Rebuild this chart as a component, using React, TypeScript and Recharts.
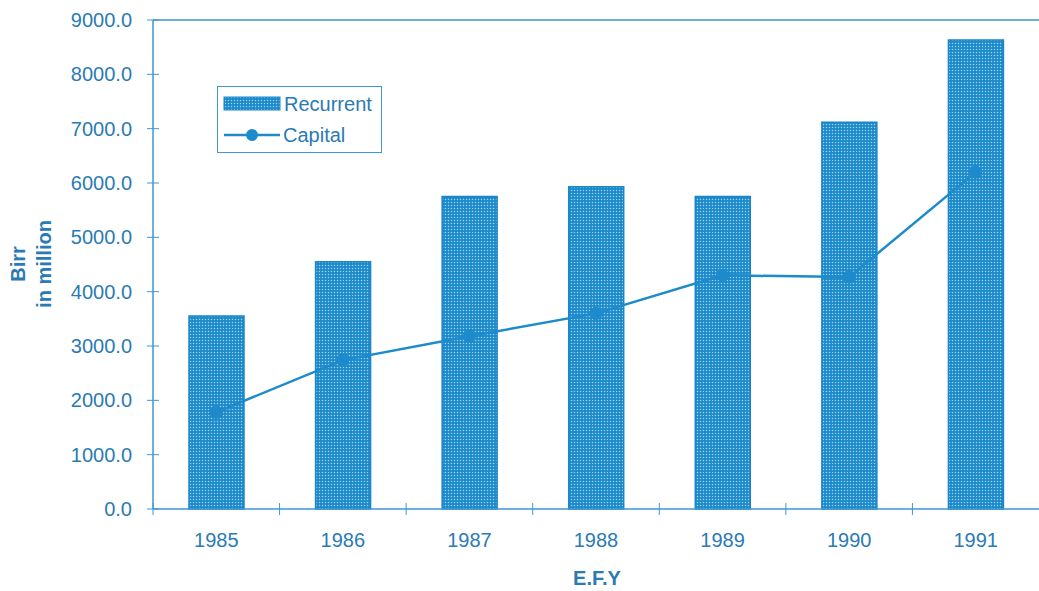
import React from 'react';
import { ComposedChart, Bar, Line, XAxis, YAxis, ReferenceLine, Label } from 'recharts';

const years = ['1985', '1986', '1987', '1988', '1989', '1990', '1991'];
const recurrent = [3550, 4550, 5750, 5930, 5750, 7120, 8630];
const capital = [1780, 2740, 3180, 3600, 4300, 4270, 6200];
const yTicks = [0, 1000, 2000, 3000, 4000, 5000, 6000, 7000, 8000, 9000];

const data = years.map((year, i) => ({ year, recurrent: recurrent[i], capital: capital[i] }));

const W = 1039;
const H = 591;
const PLOT_LEFT = 153;
const PLOT_TOP = 20;
const PLOT_BOTTOM = 509;
const BAND = (W - PLOT_LEFT) / years.length;

const TEXT = '#2a7bb4';
const AXIS = '#3d98d3';
const BAR_EDGE = '#1b86c7';
const LINE = '#1d8bcb';
const FONT = '"Liberation Sans", Arial, sans-serif';
const FS = 20;

const YTick = ({ y, payload }: any) => (
  <g>
    <line x1={PLOT_LEFT - 6} x2={PLOT_LEFT + 6} y1={y} y2={y} stroke={AXIS} strokeWidth={1} />
    <text x={132} y={y} textAnchor="end" dominantBaseline="central" fill={TEXT} fontSize={FS} fontFamily={FONT}>
      {Number(payload.value).toFixed(1)}
    </text>
  </g>
);

const XTick = ({ x, payload }: any) => (
  <g>
    <line x1={x - BAND / 2} x2={x - BAND / 2} y1={PLOT_BOTTOM - 6} y2={PLOT_BOTTOM + 6} stroke={AXIS} strokeWidth={1} />
    <text x={x} y={547} textAnchor="middle" fill={TEXT} fontSize={FS} fontFamily={FONT}>
      {payload.value}
    </text>
  </g>
);

// legend box drawn over the plot, top-left
const LegendBox = () => (
  <div
    style={{
      position: 'absolute',
      left: 217,
      top: 86,
      width: 165,
      height: 67,
      border: `1.5px solid ${AXIS}`,
      background: '#fff',
      boxSizing: 'border-box',
    }}
  >
    <svg width={162} height={64} style={{ display: 'block' }}>
      <rect x={6} y={10} width={56} height={13} fill="url(#dots-legend)" stroke={BAR_EDGE} strokeWidth={1} />
      <defs>
        <pattern id="dots-legend" width={3} height={3} patternUnits="userSpaceOnUse">
          <rect width={3} height={3} fill="#1c89ca" />
          <circle cx={1.5} cy={1.5} r={0.75} fill="#9ad4f1" />
        </pattern>
      </defs>
      <text x={66} y={24} fill={TEXT} fontSize={FS} fontFamily={FONT}>Recurrent</text>
      <line x1={6} x2={62} y1={48} y2={48} stroke={LINE} strokeWidth={2.5} />
      <circle cx={34} cy={48} r={6} fill={LINE} />
      <text x={65} y={55} fill={TEXT} fontSize={FS} fontFamily={FONT}>Capital</text>
    </svg>
  </div>
);

const YTitle = () => (
  <g fontFamily={FONT} fontWeight="bold" fontSize={FS} fill={TEXT}>
    <text transform="translate(25,264) rotate(-90)" textAnchor="middle">Birr</text>
    <text transform="translate(51,264) rotate(-90)" textAnchor="middle">in million</text>
  </g>
);

const XTitle = () => (
  <text x={597} y={585} textAnchor="middle" fontFamily={FONT} fontWeight="bold" fontSize={FS} fill={TEXT}>
    E.F.Y
  </text>
);

export default function App() {
  return (
    <div style={{ position: 'absolute', left: 0, top: 0, width: W, height: H, background: '#fff' }}>
      <ComposedChart width={W} height={H} data={data} margin={{ top: PLOT_TOP, right: 0, bottom: 0, left: 0 }}>
        <defs>
          <pattern id="dots" width={3} height={3} patternUnits="userSpaceOnUse">
            <rect width={3} height={3} fill="#1c89ca" />
            <circle cx={1.5} cy={1.5} r={0.75} fill="#9ad4f1" />
          </pattern>
        </defs>
        <XAxis
          dataKey="year"
          height={H - PLOT_BOTTOM}
          axisLine={{ stroke: AXIS, strokeWidth: 1.5 }}
          tickLine={false}
          tick={<XTick />}
          interval={0}
        >
          <Label content={<XTitle />} />
        </XAxis>
        <YAxis
          width={PLOT_LEFT}
          domain={[0, 9000]}
          ticks={yTicks}
          interval={0}
          axisLine={{ stroke: AXIS, strokeWidth: 1.5 }}
          tickLine={false}
          tick={<YTick />}
        >
          <Label content={<YTitle />} />
        </YAxis>
        <ReferenceLine y={9000} stroke={AXIS} strokeWidth={1.5} />
        <Bar
          dataKey="recurrent"
          name="Recurrent"
          barSize={55}
          fill="url(#dots)"
          stroke={BAR_EDGE}
          strokeWidth={1.5}
          isAnimationActive={false}
        />
        <Line
          dataKey="capital"
          name="Capital"
          type="linear"
          stroke={LINE}
          strokeWidth={2.5}
          dot={{ r: 6, fill: LINE, stroke: LINE, strokeWidth: 1 }}
          isAnimationActive={false}
        />
      </ComposedChart>
      <LegendBox />
    </div>
  );
}
